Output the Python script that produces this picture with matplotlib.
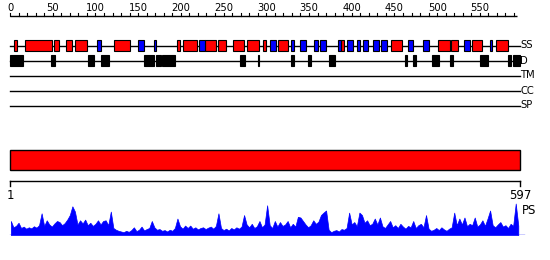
import matplotlib
matplotlib.use("Agg")
import matplotlib.pyplot as plt
import numpy as np
from matplotlib.patches import Rectangle

# ---------------- data ----------------
seq_len = 597
ruler_major = list(range(0, 551, 50))
ruler_minor = list(range(0, 591, 10))

helix = [(5, 8), (17, 49), (52, 57), (65, 72), (76, 90), (122, 141), (195, 199),
         (203, 219), (228, 241), (243, 253), (261, 274), (277, 291), (296, 300),
         (314, 325), (387, 391), (446, 459), (501, 515), (516, 524), (541, 552),
         (569, 583)]
strand = [(102, 107), (150, 157), (168, 171), (221, 228), (304, 311), (329, 332),
          (340, 346), (356, 360), (363, 370), (384, 387), (394, 402), (406, 410),
          (413, 419), (425, 432), (434, 441), (466, 472), (484, 491), (532, 538),
          (562, 564)]
disorder = [(0, 15), (48, 53), (91, 98), (107, 116), (157, 169), (171, 177),
            (178, 193), (269, 275), (290, 292), (329, 333), (349, 352), (373, 380),
            (462, 465), (472, 475), (494, 502), (515, 519), (550, 559), (583, 586),
            (589, 597)]
track_labels = ["SS", "D", "TM", "CC", "SP"]
domain = [(1, 597)]
end_labels = ["1", "597"]

ps_values = [40, 22, 26, 35, 20, 24, 18, 22, 19, 25, 21, 28, 62, 26, 42, 30, 24, 33, 40, 37,
             28, 34, 44, 57, 82, 67, 30, 42, 33, 44, 28, 35, 26, 32, 42, 30, 40, 42, 28, 67,
             20, 15, 12, 10, 8, 12, 9, 14, 22, 11, 15, 24, 13, 17, 20, 40, 22, 15, 17, 12,
             14, 10, 15, 12, 20, 47, 25, 18, 27, 20, 27, 18, 22, 16, 20, 22, 17, 21, 24, 18,
             26, 62, 20, 14, 18, 13, 20, 16, 22, 18, 24, 57, 30, 22, 32, 20, 25, 40, 22, 30,
             85, 28, 20, 40, 24, 37, 26, 30, 40, 22, 32, 24, 52, 50, 40, 30, 22, 28, 42, 32,
             38, 57, 64, 70, 15, 8, 12, 14, 10, 17, 15, 20, 64, 30, 37, 25, 64, 57, 35, 42,
             28, 32, 47, 30, 50, 25, 20, 30, 40, 22, 28, 20, 32, 24, 18, 26, 22, 40, 20, 28,
             32, 22, 57, 18, 12, 15, 20, 14, 22, 16, 12, 18, 22, 64, 28, 47, 30, 50, 25, 32,
             28, 50, 24, 30, 42, 26, 47, 70, 28, 22, 30, 37, 24, 28, 20, 32, 26, 90, 27]
ps_step = 3

# ---------------- layout ----------------
W, H = 550, 260
x0_px, x1_px = 10, 520
k = (x1_px - x0_px) / seq_len
xlim = (-x0_px / k, (W - x0_px) / k)

fig = plt.figure(figsize=(W / 100, H / 100), dpi=100)
ax = fig.add_axes([0, 0, 1, 1])
ax.set_xlim(*xlim)
ax.set_ylim(H, 0)
ax.axis("off")

small_font = dict(family=["DejaVu Sans"], fontsize=7.2)
big_font = dict(family=["DejaVu Sans"], fontsize=8.5)

# ruler
ruler_y = 16
ax.plot([0, 594], [ruler_y, ruler_y], color="black", lw=1, solid_capstyle="butt")
for t in ruler_minor:
    ax.plot([t, t], [ruler_y, ruler_y - 3], color="black", lw=0.8)
for t in ruler_major:
    ax.text(t, ruler_y - 3, str(t), ha="center", va="bottom", **small_font)

# tracks
track_y = [45.5, 60.5, 75.5, 90.5, 105.5]
box_h = 11
for y, lab in zip(track_y, track_labels):
    ax.plot([0, seq_len], [y, y], color="black", lw=1, zorder=1)
    ax.text(seq_len + 0.5, y, lab, ha="left", va="center", **small_font)

def draw_boxes(segs, y, color):
    for s, e in segs:
        ax.add_patch(Rectangle((s, y - box_h / 2), e - s, box_h, facecolor=color,
                               edgecolor="black", lw=0.8, zorder=2))

draw_boxes(helix, track_y[0], "#ff0000")
draw_boxes(strand, track_y[0], "#0000ff")
draw_boxes(disorder, track_y[1], "black")

# domain bar
for s, e in domain:
    ax.add_patch(Rectangle((s - 1, 150), e - s + 1, 20, facecolor="#ff0000",
                           edgecolor="black", lw=1, zorder=2))

# axis under domain
axis_y = 181
ax.plot([0, seq_len], [axis_y, axis_y], color="black", lw=1)
ax.plot([0, 0], [axis_y, axis_y + 5], color="black", lw=1)
ax.plot([seq_len, seq_len], [axis_y, axis_y + 5], color="black", lw=1)
ax.text(0, 189, end_labels[0], ha="center", va="top", **big_font)
ax.text(seq_len, 189, end_labels[1], ha="center", va="top", **big_font)

# PS profile
ps_bottom = 235
ps_h = 35
pax = fig.add_axes([0, (H - ps_bottom) / H, 1, ps_h / H])
pax.set_xlim(*xlim)
pax.set_ylim(0, 100)
pax.axis("off")
xs = np.arange(len(ps_values)) * ps_step + 1
pax.fill_between(xs, 0, ps_values, color="#0000ff", lw=0.5, edgecolor="#0000ff")
pax.plot([0, seq_len + 5], [0, 0], color="#0000ff", lw=1)
ax.text(seq_len + 2, 211, "PS", ha="left", va="center", **big_font)

fig.savefig("out.png", dpi=100)
